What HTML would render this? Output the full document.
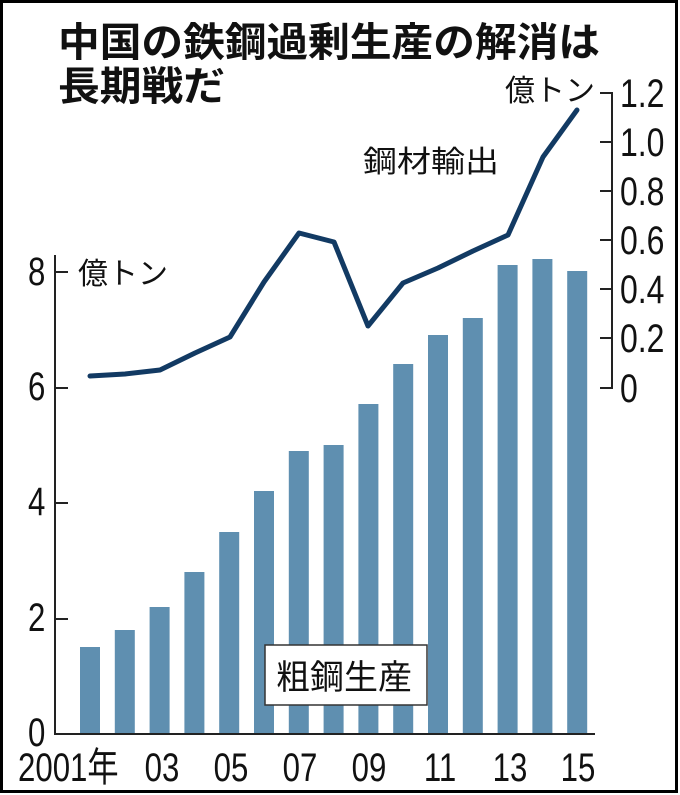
<!DOCTYPE html>
<html><head><meta charset="utf-8"><style>
body{margin:0;background:#fff;}
svg{display:block;font-family:"Liberation Sans","Noto Sans CJK JP",sans-serif;}
.n{font-size:40px;fill:#111;}
</style></head><body>
<svg width="680" height="795" viewBox="0 0 680 795">
<rect x="1.5" y="1.5" width="675" height="790" fill="#fff" stroke="#000" stroke-width="3"/>
<text x="58" y="56" font-size="40" font-weight="bold" fill="#111" textLength="542" lengthAdjust="spacingAndGlyphs">中国の鉄鋼過剰生産の解消は</text>
<text x="58" y="100" font-size="40" font-weight="bold" fill="#111" textLength="167" lengthAdjust="spacingAndGlyphs">長期戦だ</text>
<g fill="#5f8fb0">
<rect x="80" y="647" width="20" height="87"/>
<rect x="114.8" y="630" width="20" height="104"/>
<rect x="149.6" y="607" width="20" height="127"/>
<rect x="184.4" y="572" width="20" height="162"/>
<rect x="219.2" y="532" width="20" height="202"/>
<rect x="254" y="491" width="20" height="243"/>
<rect x="288.8" y="451" width="20" height="283"/>
<rect x="323.6" y="445" width="20" height="289"/>
<rect x="358.4" y="404" width="20" height="330"/>
<rect x="393.2" y="364" width="20" height="370"/>
<rect x="428" y="335" width="20" height="399"/>
<rect x="462.8" y="318" width="20" height="416"/>
<rect x="497.6" y="265" width="20" height="469"/>
<rect x="532.4" y="259" width="20" height="475"/>
<rect x="567.2" y="271" width="20" height="463"/>
</g>
<g stroke="#222" stroke-width="2" fill="none">
<path d="M55 255 V734 H595"/>
<path d="M55 619 H68 M55 503 H68 M55 388 H68 M55 272 H68"/>
<path d="M600 93 H612 V388 H600 M600 142 H612 M600 191 H612 M600 240 H612 M600 289 H612 M600 338 H612"/>
</g>
<g class="n">
<text transform="translate(28,746) scale(0.78,1)">0</text>
<text transform="translate(28,631) scale(0.78,1)">2</text>
<text transform="translate(28,515) scale(0.78,1)">4</text>
<text transform="translate(28,400) scale(0.78,1)">6</text>
<text transform="translate(28,285) scale(0.78,1)">8</text>
<text transform="translate(620,107) scale(0.8,1)">1.2</text>
<text transform="translate(620,156) scale(0.8,1)">1.0</text>
<text transform="translate(620,205) scale(0.8,1)">0.8</text>
<text transform="translate(620,254) scale(0.8,1)">0.6</text>
<text transform="translate(620,303) scale(0.8,1)">0.4</text>
<text transform="translate(620,352) scale(0.8,1)">0.2</text>
<text transform="translate(620,402) scale(0.8,1)">0</text>
<text transform="translate(18,781) scale(0.78,1)">2001年</text>
<text transform="translate(162,781) scale(0.78,1)" text-anchor="middle">03</text>
<text transform="translate(231,781) scale(0.78,1)" text-anchor="middle">05</text>
<text transform="translate(300,781) scale(0.78,1)" text-anchor="middle">07</text>
<text transform="translate(369,781) scale(0.78,1)" text-anchor="middle">09</text>
<text transform="translate(440,781) scale(0.78,1)" text-anchor="middle">11</text>
<text transform="translate(510,781) scale(0.78,1)" text-anchor="middle">13</text>
<text transform="translate(578,781) scale(0.78,1)" text-anchor="middle">15</text>
</g>
<g font-size="30" fill="#111">
<text x="78" y="284">億トン</text>
<text x="363" y="172" textLength="136" lengthAdjust="spacingAndGlyphs">鋼材輸出</text>
<text x="505" y="101">億トン</text>
</g>
<rect x="265" y="645" width="162" height="60" fill="#fff" stroke="#333" stroke-width="1.5"/>
<text x="276" y="689" font-size="34" fill="#111">粗鋼生産</text>
<polyline fill="none" stroke="#123a63" stroke-width="5" stroke-linejoin="round" stroke-linecap="round"
points="90,376 125,374 160,370 195,353 230,337 264,282 299,233 334,242 368,326 403,283 438,268 473,251 508,235 543,157 577,110"/>
</svg>
</body></html>
